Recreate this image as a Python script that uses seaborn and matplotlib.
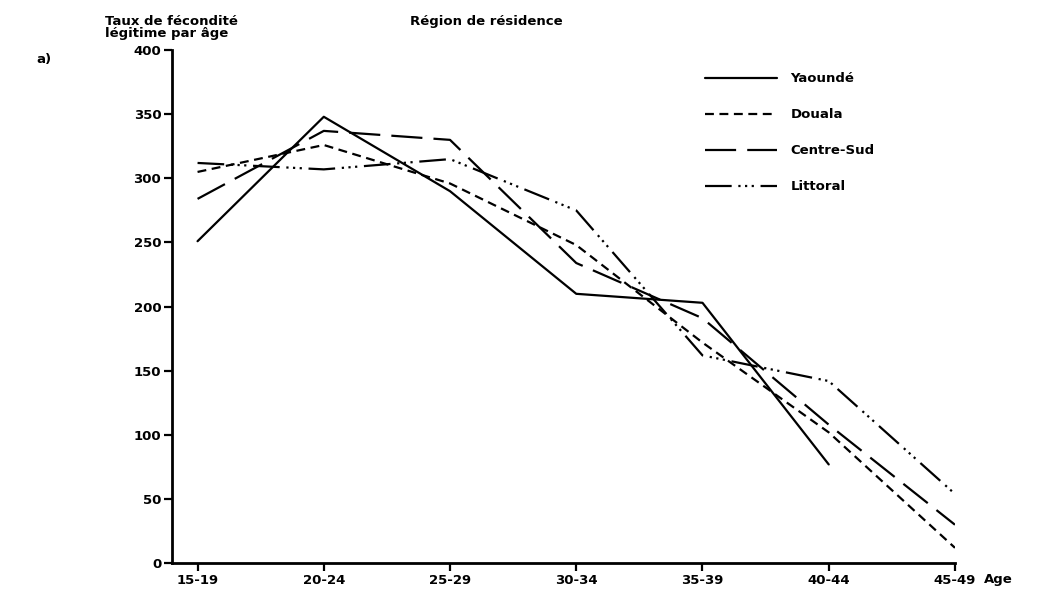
import numpy as np
import pandas as pd
import matplotlib
matplotlib.use("Agg")
import matplotlib.pyplot as plt
import seaborn as sns

age_groups = ["15-19", "20-24", "25-29", "30-34", "35-39", "40-44", "45-49"]
yaounde = [251, 348, 290, 210, 203, 77, np.nan]
douala = [305, 326, 296, 248, 172, 102, 12]
centre_sud = [284, 337, 330, 234, 191, 108, 30]
littoral = [312, 307, 315, 275, 162, 142, 54]
regions = ["Yaoundé", "Douala", "Centre-Sud", "Littoral"]
y_ticks = [0, 50, 100, 150, 200, 250, 300, 350, 400]

series = {"Yaoundé": yaounde, "Douala": douala, "Centre-Sud": centre_sud, "Littoral": littoral}
rows = []
for reg in regions:
    for i, (a, v) in enumerate(zip(age_groups, series[reg])):
        rows.append({"x": i, "age": a, "taux": v, "region": reg})
df = pd.DataFrame(rows).dropna()

sns.set_theme(style="white")
plt.rcParams["font.family"] = ["DejaVu Sans"]
plt.rcParams["font.weight"] = "bold"
plt.rcParams["text.color"] = "black"
plt.rcParams["xtick.color"] = "black"
plt.rcParams["ytick.color"] = "black"
plt.rcParams["axes.labelcolor"] = "black"

fig = plt.figure(figsize=(10.38, 5.96), dpi=100)
ax = fig.add_axes([0.166, 0.055, 0.754, 0.861])

dashes = {
    "Yaoundé": "",
    "Douala": (4, 2.5),
    "Centre-Sud": (14, 5),
    "Littoral": (12, 3, 1, 2, 1, 2, 1, 3),
}
sns.lineplot(data=df, x="x", y="taux", hue="region", style="region",
             hue_order=regions, style_order=regions,
             palette=["black"] * 4, dashes=dashes, linewidth=1.6,
             legend=True, ax=ax, sort=False)

ax.set_xlim(-0.2, 6)
ax.set_ylim(0, 400)
ax.set_xticks(range(len(age_groups)))
ax.set_xticklabels(age_groups, fontsize=9.5, fontweight="bold")
ax.set_yticks(y_ticks)
ax.set_yticklabels([str(t) for t in y_ticks], fontsize=9.5, fontweight="bold")
ax.set_xlabel("")
ax.set_ylabel("")
for s in ["top", "right"]:
    ax.spines[s].set_visible(False)
for s in ["left", "bottom"]:
    ax.spines[s].set_color("black")
    ax.spines[s].set_linewidth(2)
ax.tick_params(axis="both", direction="out", length=6, width=1.6, color="black",
               left=True, bottom=True, pad=2)

leg = ax.legend(loc="upper left", bbox_to_anchor=(0.665, 0.98), frameon=False,
                handlelength=5.5, labelspacing=1.75, handletextpad=1.0,
                prop={"size": 9.5, "weight": "bold"})

fig.text(0.101, 0.975, "Taux de fécondité\nlégitime par âge", fontsize=9.5,
         fontweight="bold", va="top", ha="left", linespacing=0.95)
fig.text(0.395, 0.975, "Région de résidence", fontsize=9.5, fontweight="bold",
         va="top", ha="left")
fig.text(0.035, 0.9, "a)", fontsize=9.5, fontweight="bold", va="center", ha="left")
fig.text(0.948, 0.028, "Age", fontsize=9.5, fontweight="bold", va="center", ha="left")

fig.savefig("out.png", dpi=100, facecolor="white")
